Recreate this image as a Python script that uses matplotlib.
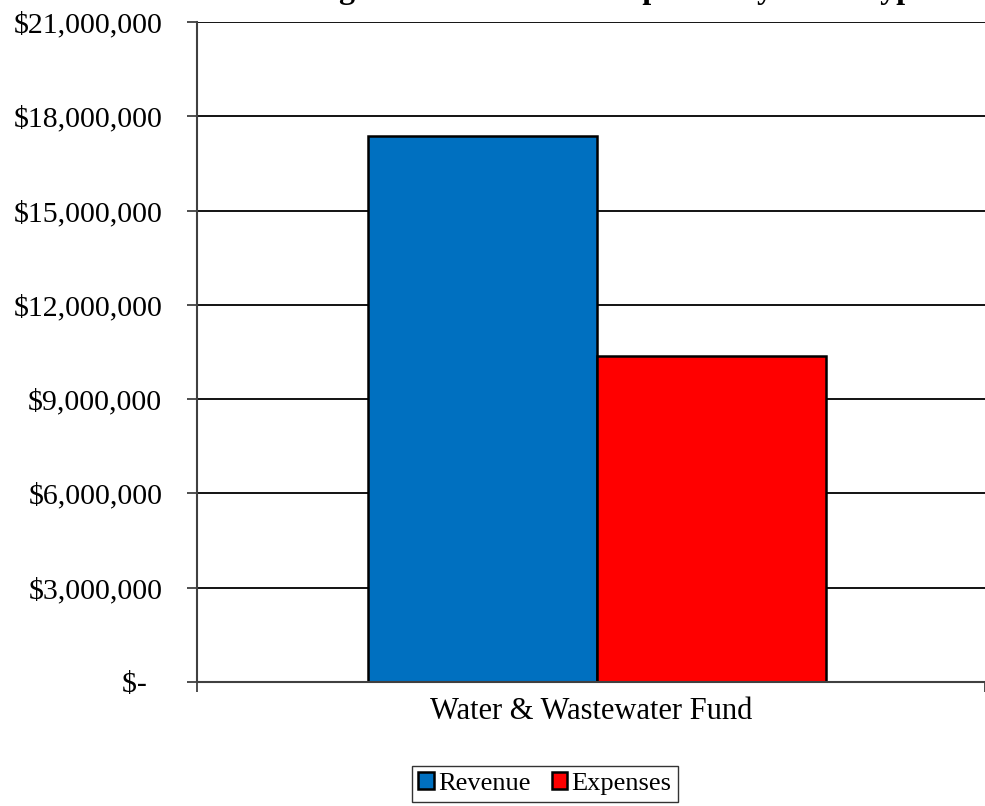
import matplotlib.pyplot as plt
from matplotlib.ticker import FuncFormatter

# data
category = "Water & Wastewater Fund"
series = ["Revenue", "Expenses"]
values = [17370000, 10370000]
colors = ["#0070C0", "#FF0000"]
title = "Budgeted Revenue and Expenses by Fund Type"

plt.rcParams['font.family'] = ['Liberation Serif', 'DejaVu Serif']

fig = plt.figure(figsize=(9.85, 8.06), dpi=100)
ax = fig.add_axes([0.2, 0.1538, 0.8, 0.8189])

width = 0.29
offsets = [-width / 2, width / 2]
for name, val, col, off in zip(series, values, colors, offsets):
    ax.bar(off + 0.0076, val, width=width, color=col, edgecolor="black",
           linewidth=1.8, label=name, zorder=3)

ax.set_xlim(-0.5, 0.5)
ax.set_ylim(0, 21000000)
ax.set_yticks(range(0, 21000001, 3000000))

def money(v, pos):
    if v == 0:
        return "$-  "
    return "${:,.0f}".format(v)

ax.yaxis.set_major_formatter(FuncFormatter(money))
ax.tick_params(axis='y', labelsize=21.5, length=7, width=1.3, color="#404040", pad=18)
ax.set_xticks([0])
ax.set_xticklabels([category])
ax.tick_params(axis='x', labelsize=22, length=0, pad=11)
ax.set_xticks([-0.5, 0.5], minor=True)
ax.tick_params(axis='x', which='minor', length=7, width=1.3, color="#404040")

ax.grid(axis='y', color="black", linewidth=1.3, zorder=0)
ax.set_axisbelow(True)
for s in ["top", "right"]:
    ax.spines[s].set_visible(False)
for s in ["left", "bottom"]:
    ax.spines[s].set_color("#404040")
    ax.spines[s].set_linewidth(1.5)
ax.spines["bottom"].set_zorder(4)

leg = fig.legend(loc="lower center", bbox_to_anchor=(0.553, 0.002), ncol=2,
                 fontsize=19, frameon=True, fancybox=False, edgecolor="black",
                 handlelength=0.6, handleheight=0.6, handletextpad=0.15,
                 columnspacing=0.8, borderpad=0.25, borderaxespad=0.1)
leg.get_frame().set_linewidth(1.0)

# the title is mostly cut off at the top of the image
fig.text(0.614, 1 + 1.5 / 806, title, ha="center", va="baseline",
         fontsize=23, fontweight="bold")

fig.savefig("out.png", dpi=100)
